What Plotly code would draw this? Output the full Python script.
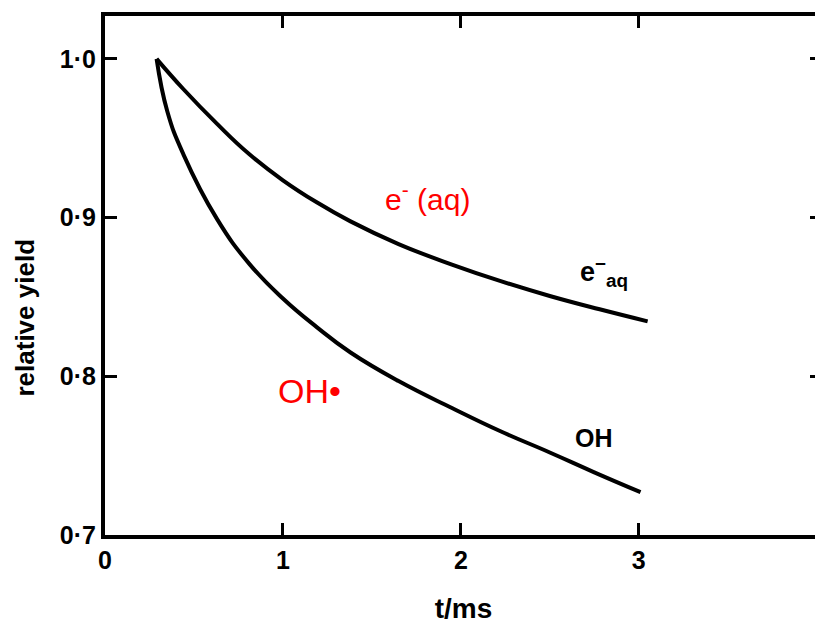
import plotly.graph_objects as go

# ---- data ----
t_eaq = [0.29, 0.44, 0.63, 0.81, 1.00, 1.19, 1.38, 1.65, 1.95, 2.22, 2.50, 2.78, 3.05]
y_eaq = [1.000, 0.981, 0.959, 0.940, 0.9235, 0.9096, 0.8976, 0.8833, 0.8704, 0.8601, 0.8506, 0.8422, 0.8346]

t_oh = [0.29, 0.35, 0.44, 0.63, 0.81, 1.00, 1.19, 1.38, 1.65, 1.95, 2.22, 2.50, 2.75, 3.01]
y_oh = [1.000, 0.967, 0.940, 0.899, 0.871, 0.849, 0.831, 0.815, 0.797, 0.780, 0.7655, 0.752, 0.7395, 0.727]

x_tickvals = [0, 1, 2, 3]
x_ticktext = ["0", "1", "2", "3"]
y_tickvals = [0.7, 0.8, 0.9, 1.0]
y_ticktext = ["0·7", "0·8", "0·9", "1·0"]

FONT = "Liberation Sans, Arial, sans-serif"

fig = go.Figure()
fig.add_trace(go.Scatter(x=t_eaq, y=y_eaq, mode="lines",
                         line=dict(color="black", width=4, shape="spline", smoothing=1.3),
                         name="e⁻(aq)", showlegend=False))
fig.add_trace(go.Scatter(x=t_oh, y=y_oh, mode="lines",
                         line=dict(color="black", width=4, shape="spline", smoothing=1.3),
                         name="OH•", showlegend=False))

axis_common = dict(showline=True, linecolor="black", linewidth=4, mirror="ticks", ticks="inside",
                   ticklen=12, tickwidth=3, tickcolor="black", showgrid=False, zeroline=False,
                   tickfont=dict(family=FONT, size=25, color="black", weight="bold"))

fig.update_xaxes(range=[0, 4.03], tickvals=x_tickvals, ticktext=x_ticktext,
                 title=dict(text="t/ms", standoff=26,
                            font=dict(family=FONT, size=28, color="black", weight="bold")),
                 **axis_common)
fig.update_yaxes(range=[0.7, 1.027], tickvals=y_tickvals, ticktext=y_ticktext, ticklabelstandoff=0,
                 **axis_common)

fig.add_annotation(text="<b>relative yield</b>", textangle=-90, xref="paper", yref="paper",
                   x=-0.1116, y=0.419, xanchor="center", yanchor="middle", showarrow=False,
                   font=dict(family=FONT, size=26, color="black"))

fig.add_annotation(text="e<sup>-</sup> (aq)", x=1.56, y=0.913, xanchor="left", yanchor="middle",
                   showarrow=False, font=dict(family=FONT, size=30, color="red"))
fig.add_annotation(text="OH•", x=0.96, y=0.7906, xanchor="left", yanchor="middle",
                   showarrow=False, font=dict(family=FONT, size=34, color="red"))

fig.add_annotation(text="<b>e<sup>−</sup><sub>aq</sub></b>", x=2.66, y=0.866, xanchor="left",
                   yanchor="middle", showarrow=False, font=dict(family=FONT, size=27, color="black"))
fig.add_annotation(text="<b>OH</b>", x=2.63, y=0.761, xanchor="left", yanchor="middle",
                   showarrow=False, font=dict(family=FONT, size=25, color="black"))

# the page body adds an 8px offset; margins compensate so the plot frame lands where the reference has it
fig.update_layout(width=823, height=622, margin=dict(l=97, r=9, t=4, b=95),
                  plot_bgcolor="white", paper_bgcolor="white")

fig.write_html("out.html")
